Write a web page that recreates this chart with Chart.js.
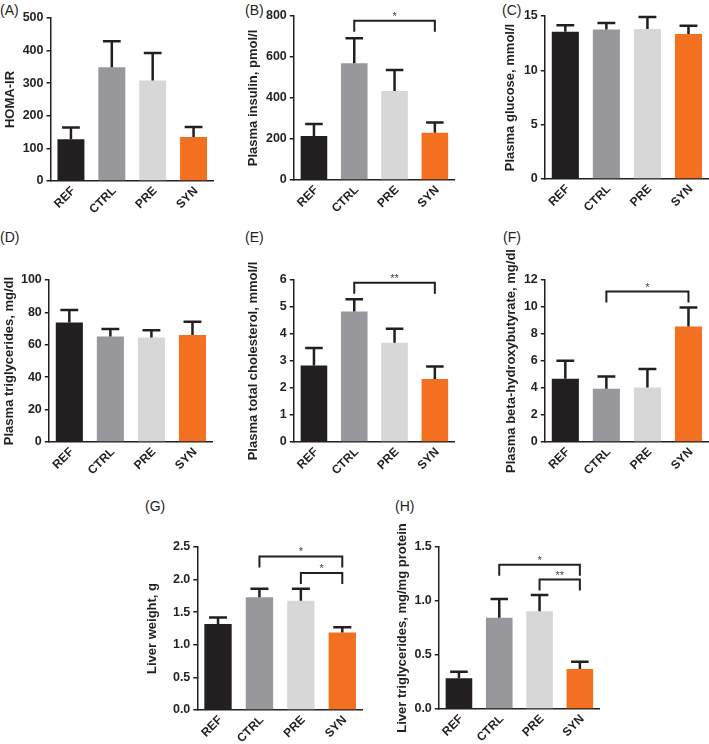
<!DOCTYPE html>
<html>
<head>
<meta charset="utf-8">
<script src="https://cdn.jsdelivr.net/npm/chart.js@4.4.1/dist/chart.umd.min.js"></script>
<style>
  html, body { margin: 0; padding: 0; background: #fff; }
  body { width: 709px; height: 744px; position: relative; overflow: hidden; font-family: "Liberation Sans", Arial, sans-serif; }
  canvas { position: absolute; }
  .tag { position: absolute; font-size: 14px; line-height: 14px; color: #231f20; }
</style>
</head>
<body>
<div class="tag" style="left:0px;top:3px">(A)</div>
<div class="tag" style="left:245px;top:3px">(B)</div>
<div class="tag" style="left:502px;top:3px">(C)</div>
<div class="tag" style="left:0px;top:230px">(D)</div>
<div class="tag" style="left:245px;top:230px">(E)</div>
<div class="tag" style="left:503px;top:230px">(F)</div>
<div class="tag" style="left:145px;top:499px">(G)</div>
<div class="tag" style="left:395px;top:499px">(H)</div>

<script>
const groups = ['REF', 'CTRL', 'PRE', 'SYN'];

// means and SEM
const homaMean = [128, 349, 308, 135];
const homaSem = [36, 80, 85, 31];
const insulinMean = [215, 569, 434, 231];
const insulinSem = [58, 122, 103, 50];
const glucoseMean = [13.55, 13.75, 13.8, 13.35];
const glucoseSem = [0.6, 0.6, 1.1, 0.75];
const plasmaTgMean = [73.7, 65.1, 64.5, 66.1];
const plasmaTgSem = [7.8, 4.7, 4.5, 8.2];
const cholMean = [2.83, 4.83, 3.68, 2.33];
const cholSem = [0.65, 0.46, 0.51, 0.47];
const bhbMean = [4.68, 3.94, 4.04, 8.55];
const bhbSem = [1.33, 0.91, 1.36, 1.41];
const liverWtMean = [1.32, 1.73, 1.675, 1.19];
const liverWtSem = [0.10, 0.13, 0.185, 0.08];
const liverTgMean = [0.284, 0.846, 0.904, 0.37];
const liverTgSem = [0.062, 0.173, 0.152, 0.068];

// significance brackets: [from group, to group, label, height in axis units]
const insulinSig = [[1, 3, '*', 777]];
const cholSig = [[1, 3, '**', 5.9]];
const bhbSig = [[1, 3, '*', 11.14]];
const liverWtSig = [[1, 3, '*', 2.356], [2, 3, '*', 2.10]];
const liverTgSig = [[1, 3, '*', 1.336], [2, 3, '**', 1.198]];

const barColors = ['#231f20', '#98989c', '#d7d7d7', '#f37021'];
const ink = '#231f20';

const panels = [
  { mean: homaMean, sem: homaSem, max: 500, step: 100, title: 'HOMA-IR', sig: [],
    axisX: 50, top: 17.5, bottom: 180, right: 213, titleX: 10.3 },
  { mean: insulinMean, sem: insulinSem, max: 800, step: 200, title: 'Plasma insulin, pmol/l', sig: insulinSig,
    axisX: 294, top: 16, bottom: 180, right: 455, titleX: 254 },
  { mean: glucoseMean, sem: glucoseSem, max: 15, step: 5, title: 'Plasma glucose, mmol/l', sig: [],
    axisX: 545, top: 15.7, bottom: 179, right: 709, titleX: 511 },
  { mean: plasmaTgMean, sem: plasmaTgSem, max: 100, step: 20, title: 'Plasma triglycerides, mg/dl', sig: [],
    axisX: 49, top: 280, bottom: 442, right: 213, titleX: 10 },
  { mean: cholMean, sem: cholSem, max: 6, step: 1, title: 'Plasma total cholesterol, mmol/l', sig: cholSig,
    axisX: 294, top: 280, bottom: 442, right: 455, titleX: 254 },
  { mean: bhbMean, sem: bhbSem, max: 12, step: 2, title: 'Plasma beta-hydroxybutyrate, mg/dl', sig: bhbSig,
    axisX: 545, top: 280, bottom: 442, right: 709, titleX: 512 },
  { mean: liverWtMean, sem: liverWtSem, max: 2.5, step: 0.5, title: 'Liver weight, g', sig: liverWtSig, dec: 1,
    axisX: 197, top: 547, bottom: 710, right: 363, titleX: 152.5 },
  { mean: liverTgMean, sem: liverTgSem, max: 1.5, step: 0.5, title: 'Liver triglycerides, mg/mg protein', sig: liverTgSig, dec: 1,
    axisX: 439, top: 547, bottom: 709, right: 600, titleX: 403 }
];

const errorBars = {
  id: 'errorBars',
  afterDatasetsDraw(chart) {
    const ds = chart.data.datasets[0];
    const ys = chart.scales.y;
    const ctx = chart.ctx;
    ctx.save();
    ctx.strokeStyle = ink;
    ctx.lineWidth = 2.5;
    chart.getDatasetMeta(0).data.forEach((bar, i) => {
      const yTop = ys.getPixelForValue(ds.data[i] + ds.sem[i]);
      const half = bar.width * 0.33;
      ctx.beginPath();
      ctx.moveTo(bar.x, bar.y);
      ctx.lineTo(bar.x, yTop);
      ctx.moveTo(bar.x - half, yTop);
      ctx.lineTo(bar.x + half, yTop);
      ctx.stroke();
    });
    ctx.restore();
  }
};

function makeBrackets(list) {
  return {
    id: 'brackets',
    afterDraw(chart) {
      const xs = chart.scales.x, ys = chart.scales.y, ctx = chart.ctx;
      ctx.save();
      list.forEach(([a, b, label, val]) => {
        const x1 = xs.getPixelForValue(a), x2 = xs.getPixelForValue(b);
        const y = ys.getPixelForValue(val);
        ctx.strokeStyle = ink;
        ctx.lineWidth = 2;
        ctx.beginPath();
        ctx.moveTo(x1, y + 11);
        ctx.lineTo(x1, y);
        ctx.lineTo(x2, y);
        ctx.lineTo(x2, y + 11);
        ctx.stroke();
        ctx.fillStyle = '#444';
        ctx.font = '11px "Liberation Sans", Arial, sans-serif';
        ctx.textAlign = 'center';
        ctx.textBaseline = 'alphabetic';
        ctx.fillText(label, (x1 + x2) / 2, y - 1);
      });
      ctx.restore();
    }
  };
}

const padTop = 45, xAxisH = 50;

panels.forEach(p => {
  const yW = (p.axisX - p.titleX) + 7.8;
  const left = p.axisX - yW;
  const canvas = document.createElement('canvas');
  canvas.width = Math.round(p.right - left);
  canvas.height = Math.round(p.bottom - p.top + padTop + xAxisH);
  canvas.style.left = left + 'px';
  canvas.style.top = (p.top - padTop) + 'px';
  document.body.appendChild(canvas);

  new Chart(canvas.getContext('2d'), {
    type: 'bar',
    data: {
      labels: groups,
      datasets: [{
        data: p.mean,
        sem: p.sem,
        backgroundColor: barColors,
        borderWidth: 0,
        categoryPercentage: 1,
        barPercentage: 0.66
      }]
    },
    options: {
      responsive: false,
      animation: false,
      layout: { padding: { left: 0, right: 0, top: padTop, bottom: 0 } },
      plugins: { legend: { display: false }, tooltip: { enabled: false } },
      scales: {
        x: {
          grid: { display: false },
          border: { display: true, color: ink, width: 1.5 },
          ticks: {
            minRotation: 45, maxRotation: 45, padding: -5, labelOffset: 2.5, color: ink,
            font: { family: '"Liberation Sans", Arial, sans-serif', size: 12, weight: 'bold' }
          },
          afterFit: s => { s.height = xAxisH; }
        },
        y: {
          min: 0, max: p.max,
          grid: { display: true, drawOnChartArea: false, drawTicks: true, tickLength: 4, color: ink, lineWidth: 1.5 },
          border: { display: true, color: ink, width: 1.5 },
          ticks: {
            stepSize: p.step, padding: 3, color: ink,
            font: { family: '"Liberation Sans", Arial, sans-serif', size: 12.5, weight: 'bold' },
            callback: v => p.dec ? v.toFixed(p.dec) : String(v)
          },
          title: {
            display: true, text: p.title, color: ink, padding: 0,
            font: { family: '"Liberation Sans", Arial, sans-serif', size: 13, weight: 'bold' }
          },
          afterFit: s => { s.width = yW; }
        }
      }
    },
    plugins: [errorBars, makeBrackets(p.sig)]
  });
});
</script>
</body>
</html>
